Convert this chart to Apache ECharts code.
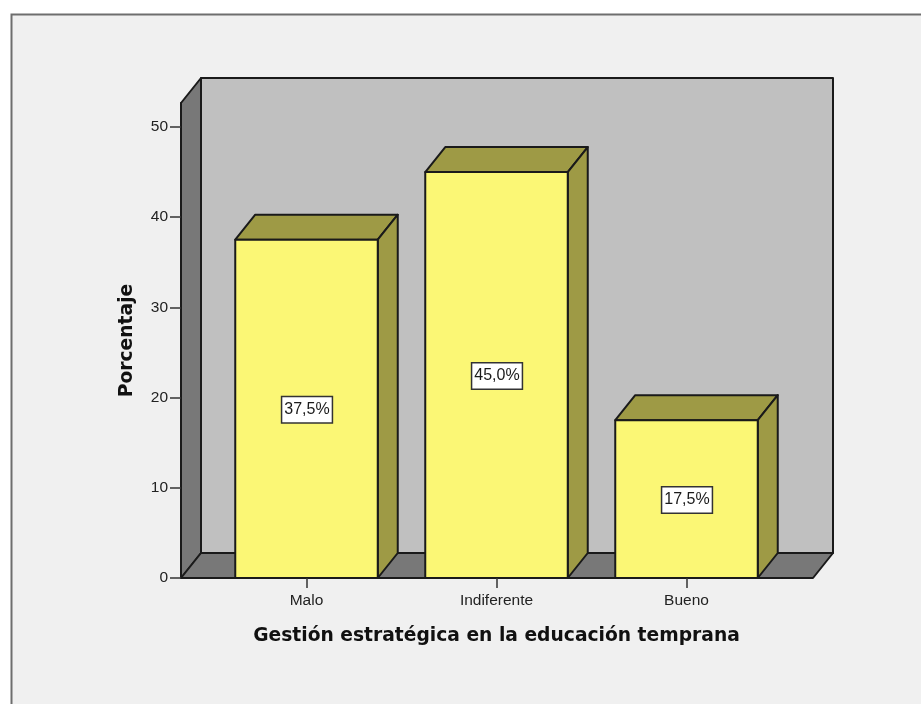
<!DOCTYPE html>
<html>
<head>
<meta charset="utf-8">
<style>
  html, body { margin: 0; padding: 0; background: #fff; }
  #chart { width: 921px; height: 704px; }
</style>
<script src="https://cdn.jsdelivr.net/npm/echarts@6/dist/echarts.min.js"></script>
</head>
<body>
<div id="chart"></div>
<script>
const categories = ["Malo", "Indiferente", "Bueno"];
const porcentaje = [37.5, 45.0, 17.5];
const yTicks = [0, 10, 20, 30, 40, 50];
const yMax = 52.66;

const xTitle = "Gestión estratégica en la educación temprana";
const yTitle = "Porcentaje";

// profundidad del efecto 3D
const depthX = 20;
const depthY = -25;
const wallPad = 30.5;
const edge = { stroke: "#1a1a1a", lineWidth: 2, lineJoin: "round" };

const myChart = echarts.init(document.getElementById("chart"), null, { renderer: "canvas" });

function poly(points, fill) {
  return { type: "polygon", shape: { points: points }, style: Object.assign({ fill: fill }, edge) };
}

function renderWalls(params) {
  const c = params.coordSys;
  const l = c.x - wallPad;
  const r = c.x + c.width + wallPad + 1;
  const t = c.y;
  const b = c.y + c.height;
  return {
    type: "group",
    children: [
      poly([[l + depthX, t + depthY], [r + depthX, t + depthY], [r + depthX, b + depthY], [l + depthX, b + depthY]], "#c0c0c0"),
      poly([[l, t], [l + depthX, t + depthY], [l + depthX, b + depthY], [l, b]], "#787878"),
      poly([[l, b], [l + depthX, b + depthY], [r + depthX, b + depthY], [r, b]], "#787878")
    ]
  };
}

function renderBar(params, api) {
  const top = api.coord([api.value(0), api.value(1)]);
  const base = api.coord([api.value(0), 0]);
  const w = api.size([1, 0])[0] * 0.75;
  const x0 = top[0] - w / 2;
  const x1 = top[0] + w / 2;
  const label = api.value(1).toFixed(1).replace(".", ",") + "%";
  return {
    type: "group",
    children: [
      poly([[x0, top[1]], [x0 + depthX, top[1] + depthY], [x1 + depthX, top[1] + depthY], [x1, top[1]]], "#9e9a45"),
      poly([[x1, top[1]], [x1 + depthX, top[1] + depthY], [x1 + depthX, base[1] + depthY], [x1, base[1]]], "#9e9a45"),
      poly([[x0, top[1]], [x1, top[1]], [x1, base[1]], [x0, base[1]]], "#fbf775"),
      {
        type: "text",
        x: top[0] + 0.5,
        y: (top[1] + base[1]) / 2 + 1,
        style: {
          text: label,
          align: "center",
          verticalAlign: "middle",
          fill: "#1a1a1a",
          font: '16px "Liberation Sans"',
          backgroundColor: "#fff",
          borderColor: "#333",
          borderWidth: 1.5,
          padding: [5, 2, 4, 2]
        }
      }
    ]
  };
}

const option = {
  backgroundColor: "#fff",
  animation: false,
  graphic: [
    {
      type: "rect",
      z: -10,
      silent: true,
      shape: { x: 11.5, y: 14.5, width: 1000, height: 800 },
      style: { fill: "#f0f0f0", stroke: "#6e6e6e", lineWidth: 2 }
    }
  ],
  grid: { left: 211.5, top: 103, width: 570, height: 475, containLabel: false },
  xAxis: {
    type: "category",
    data: categories,
    z: 5,
    name: xTitle,
    nameLocation: "middle",
    nameGap: 49,
    nameTextStyle: { fontFamily: "DejaVu Sans", fontWeight: "bold", fontSize: 18.7, color: "#111" },
    axisLine: { show: true, lineStyle: { color: "#1a1a1a", width: 2 } },
    axisTick: { show: true, alignWithLabel: true, length: 10, lineStyle: { color: "#333", width: 1.5 } },
    axisLabel: { fontFamily: "Liberation Sans", fontSize: 15.5, color: "#222", margin: 15 },
    splitLine: { show: false }
  },
  yAxis: {
    type: "value",
    min: 0,
    max: yMax,
    offset: wallPad,
    z: 5,
    name: yTitle,
    nameLocation: "middle",
    nameGap: 44,
    nameTextStyle: { fontFamily: "DejaVu Sans", fontWeight: "bold", fontSize: 18.7, color: "#111" },
    axisLine: { show: true, lineStyle: { color: "#1a1a1a", width: 2 } },
    axisTick: { show: true, length: 11, customValues: yTicks, lineStyle: { color: "#333", width: 1.5 } },
    axisLabel: { fontFamily: "Liberation Sans", fontSize: 15.5, color: "#222", margin: 13, customValues: yTicks },
    splitLine: { show: false }
  },
  series: [
    {
      type: "custom",
      coordinateSystem: "cartesian2d",
      renderItem: renderWalls,
      data: [0],
      clip: false,
      silent: true,
      z: 1
    },
    {
      type: "custom",
      coordinateSystem: "cartesian2d",
      renderItem: renderBar,
      data: categories.map((c, i) => [i, porcentaje[i]]),
      encode: { x: 0, y: 1 },
      clip: false,
      z: 2
    }
  ]
};

myChart.setOption(option);
</script>
</body>
</html>
